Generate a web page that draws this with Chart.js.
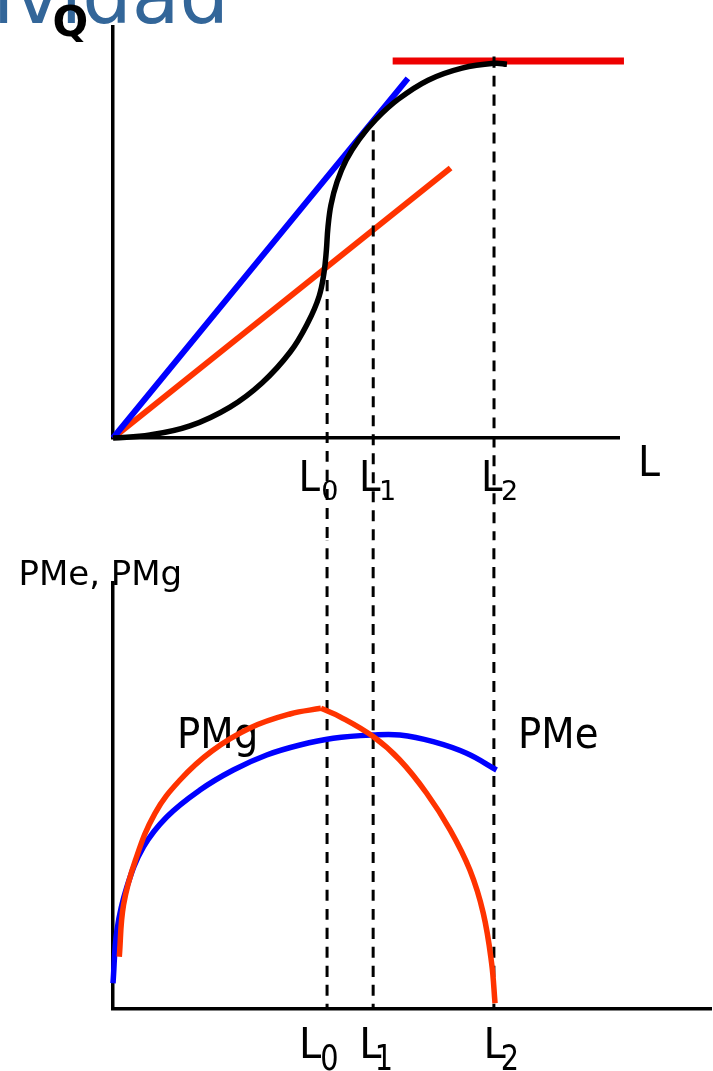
<!DOCTYPE html>
<html>
<head>
<meta charset="utf-8">
<script src="https://cdn.jsdelivr.net/npm/chart.js@4.4.1/dist/chart.umd.min.js"></script>
<style>
  body { margin: 0; background: #fff; }
  canvas { display: block; }
</style>
</head>
<body>
<canvas id="topChart" width="713" height="540"></canvas>
<canvas id="bottomChart" width="713" height="531"></canvas>
<script>
// Labour levels marked on both panels (L0, L1, L2)
const lMarks = [5.62, 6.83, 10.0];
const lSubs = ['0', '1', '2'];

// Top panel: total product curve
const tpL = [0, 0.97, 2.02, 3.07, 3.91, 4.65, 5.12, 5.41, 5.54, 5.60, 5.64, 5.72, 5.88, 6.12, 6.46, 6.90, 7.48, 8.27, 9.16, 10.03, 10.34];
const tpQ = [0, 0.8, 3.2, 8.2, 14.6, 22.8, 30.7, 37.6, 44.0, 49.8, 55.7, 61.8, 67.9, 73.7, 79.2, 84.5, 89.8, 94.9, 98.1, 99.4, 99.1];
// rays from the origin
const rayBlueL = [0, 7.74];
const rayBlueQ = [0, 95.4];
const rayOrangeL = [0, 8.86];
const rayOrangeQ = [0, 71.6];
// maximum output level
const maxLineL = [7.34, 13.41];
const maxLineQ = [100, 100];
// where each dashed guide starts on the top panel
const dashTopQ = [41.9, 81.6, 101.2];

// Bottom panel: marginal product (PMg), rising and falling branches
const pmgUpL = [0.165, 0.276, 0.591, 1.102, 1.759, 2.598, 3.596, 4.646, 5.459];
const pmgUpV = [1.743, 3.467, 4.967, 6.523, 7.633, 8.6, 9.367, 9.833, 10.023];
const pmgDownL = [5.459, 5.96, 6.83, 7.53, 8.23, 8.85, 9.37, 9.72, 9.94, 10.03];
const pmgDownV = [10.023, 9.74, 9.08, 8.3, 7.2, 5.97, 4.63, 3.2, 1.53, 0.19];
// average product (PMe)
const pmeL = [0, 0.105, 0.367, 0.803, 1.417, 2.283, 3.158, 4.035, 4.908, 5.782, 6.832, 7.533, 8.407, 9.283, 10.07];
const pmeV = [0.857, 2.633, 4.077, 5.41, 6.41, 7.3, 7.967, 8.467, 8.8, 9.023, 9.133, 9.133, 8.91, 8.523, 7.967];

const FONT = '"DejaVu Sans", Verdana, sans-serif';

function pts(xs, ys) {
  return xs.map((x, i) => ({ x: x, y: ys[i] }));
}

function drawText(ctx, text, x, y, size, sx, color, weight) {
  ctx.save();
  ctx.font = (weight || 'normal') + ' ' + size + 'px ' + FONT;
  ctx.fillStyle = color || '#000';
  ctx.textAlign = 'left';
  ctx.textBaseline = 'alphabetic';
  ctx.translate(x, y);
  ctx.scale(sx, 1);
  ctx.fillText(text, 0, 0);
  ctx.restore();
}

function lineSet(data, color, width, order, dash) {
  return {
    data: data,
    borderColor: color,
    borderWidth: width,
    borderDash: dash || [],
    pointRadius: 0,
    fill: false,
    clip: false,
    order: order,
    tension: 0.4,
    borderCapStyle: 'butt',
    borderJoinStyle: 'round'
  };
}

function axisOpts(min, max, horizontal) {
  return {
    type: 'linear',
    min: min,
    max: max,
    grid: { display: false, drawTicks: false },
    ticks: { display: false },
    border: { display: true, color: '#000', width: 3.5 },
    afterFit: s => { if (horizontal) s.height = 0; else s.width = 0; }
  };
}

function baseOptions(xMax, yMax, padding) {
  return {
    responsive: false,
    animation: false,
    devicePixelRatio: 1,
    layout: { padding: padding },
    plugins: { legend: { display: false }, tooltip: { enabled: false } },
    scales: {
      x: axisOpts(0, xMax, true),
      y: axisOpts(0, yMax, false)
    }
  };
}

// ---------- top panel ----------
const topSets = [
  lineSet(pts(tpL, tpQ), '#000', 5.5, 1),
  lineSet(pts(rayBlueL, rayBlueQ), '#0000ff', 6, 2),
  lineSet(pts(rayOrangeL, rayOrangeQ), '#ff3300', 6, 3),
  lineSet(pts(maxLineL, maxLineQ), '#ee0000', 7, 4)
];
lMarks.forEach((l, i) => {
  topSets.push(lineSet([{ x: l, y: dashTopQ[i] }, { x: l, y: -30 }], '#000', 3, 0, [11, 8]));
});

const topLabelDx = [[-28.6, -5.8], [-14.3, 5.7], [-13, 7]];

new Chart(document.getElementById('topChart'), {
  type: 'line',
  data: { datasets: topSets },
  options: baseOptions(13.28, 109, { left: 113, right: 94, top: 27, bottom: 102 }),
  plugins: [{
    id: 'topText',
    beforeDatasetsDraw(chart) {
      const ctx = chart.ctx;
      // slide title, clipped at the top edge
      ctx.save();
      ctx.font = '78px ' + FONT;
      ctx.fillStyle = '#336699';
      ctx.textAlign = 'right';
      ctx.fillText('Productividad', 229, 23);
      ctx.restore();
      drawText(ctx, 'Q', 52.5, 36, 42, 1, '#000', 'bold');
      drawText(ctx, 'L', 638, 476, 43, 0.92);
      const xs = chart.scales.x;
      lMarks.forEach((l, i) => {
        const px = xs.getPixelForValue(l);
        drawText(ctx, 'L', px + topLabelDx[i][0], 490.5, 42, 0.92);
        drawText(ctx, lSubs[i], px + topLabelDx[i][1], 500, 27, 1);
      });
    }
  }]
});

// ---------- bottom panel ----------
const bottomSets = [
  lineSet(pts(pmgUpL, pmgUpV), '#ff3300', 5.5, 1),
  lineSet(pts(pmgDownL, pmgDownV), '#ff3300', 5.5, 1),
  lineSet(pts(pmeL, pmeV), '#0000ff', 5.5, 2)
];
lMarks.forEach(l => {
  bottomSets.push(lineSet([{ x: l, y: 16 }, { x: l, y: 0 }], '#000', 3, 3, [11, 8]));
});

const bottomLabelDx = [[-28, -6.9], [-14, 1.5], [-10.3, 6.9]];

new Chart(document.getElementById('bottomChart'), {
  type: 'line',
  data: { datasets: bottomSets },
  options: baseOptions(15.7, 14.2, { left: 113, right: 2, top: 43, bottom: 62 }),
  plugins: [{
    id: 'bottomText',
    beforeDatasetsDraw(chart) {
      const ctx = chart.ctx;
      drawText(ctx, 'PMe, PMg', 18.4, 45, 34, 1);
      drawText(ctx, 'PMg', 177, 208.3, 43, 0.9);
      drawText(ctx, 'PMe', 518, 208.3, 43, 0.9);
      const xs = chart.scales.x;
      lMarks.forEach((l, i) => {
        const px = xs.getPixelForValue(l);
        drawText(ctx, 'L', px + bottomLabelDx[i][0], 518, 42, 0.95);
        drawText(ctx, lSubs[i], px + bottomLabelDx[i][1], 529.5, 36, 0.8);
      });
    }
  }]
});
</script>
</body>
</html>
